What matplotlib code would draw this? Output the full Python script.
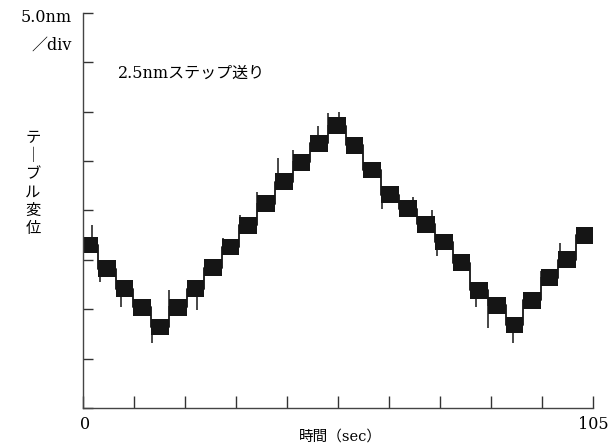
import numpy as np
import matplotlib.pyplot as plt

# step start times (sec) and table displacement level (nm)
step_t = [0, 3.1, 6.8, 10.3, 14.0, 17.7, 21.4, 24.9, 28.6, 32.1,
          35.8, 39.5, 43.2, 46.7, 50.4, 54.1, 57.6, 61.4, 65.1, 68.8,
          72.5, 76.2, 79.7, 83.4, 87.1, 90.6, 94.3, 97.8, 101.5]
step_nm = [16.5, 14.1, 12.1, 10.2, 8.2, 10.2, 12.1, 14.2, 16.3, 18.5,
           20.7, 22.9, 24.9, 26.8, 28.6, 26.6, 24.1, 21.6, 20.2, 18.6,
           16.8, 14.7, 11.9, 10.4, 8.4, 10.9, 13.2, 15.0, 17.5]
t_end = 105

# noise spikes visible on the trace (sec, nm)
spike_t = [1.9, 3.5, 7.8, 14.2, 17.7, 23.5, 28.8, 32.3, 35.8, 40.1, 43.2,
           48.4, 50.4, 52.7, 61.6, 67.9, 71.9, 72.9, 80.9, 83.4, 88.6,
           94.3, 98.2]
spike_nm = [18.5, 12.8, 10.2, 6.6, 11.9, 9.9, 17.2, 19.5, 21.9, 25.3, 26.1,
            28.6, 29.9, 30.0, 20.2, 21.4, 20.1, 15.4, 10.2, 8.1, 6.6,
            13.9, 16.7]

y_ticks = np.arange(0, 41, 5)
x_ticks = np.linspace(0, 105, 11)

plt.rcParams['font.family'] = ['DejaVu Serif', 'Noto Sans CJK JP']

fig = plt.figure(figsize=(6.10, 4.44), dpi=100)
ax = fig.add_axes([83 / 610, 36 / 444, 510 / 610, 395 / 444])

t = np.array(step_t + [t_end])
lv = np.array(step_nm + [step_nm[-1]])
half = 0.85
ax.fill_between(t, lv - half, lv + half, step='post', color='#151515', lw=0)
ax.step(t, lv, where='post', color='#151515', lw=1.3)

# spikes go from the local level to the peak value
lvl_at = lambda s: lv[np.searchsorted(t, s, side='right') - 1]
ax.vlines(spike_t, [lvl_at(s) for s in spike_t], spike_nm, color='#151515', lw=1.1)

ax.set_xlim(0, 105)
ax.set_ylim(0, 40)
ax.set_xticks(x_ticks)
ax.set_yticks(y_ticks)
ax.set_xticklabels([])
ax.set_yticklabels([])
ax.tick_params(axis='x', direction='in', length=8.5, width=1.0, color='#333333')
ax.tick_params(axis='y', direction='in', length=7.5, width=1.0, color='#333333')
for side in ['top', 'right']:
    ax.spines[side].set_visible(False)
for side in ['left', 'bottom']:
    ax.spines[side].set_color('#444444')
    ax.spines[side].set_linewidth(1.0)

fig.text(72 / 610, 1 - 18 / 444, '5.0nm', ha='right', va='center', fontsize=11.5)
fig.text(72 / 610, 1 - 45 / 444, '／div', ha='right', va='center', fontsize=11.5)
fig.text(118 / 610, 1 - 73 / 444, '2.5nmステップ送り', ha='left', va='center', fontsize=11.5)
fig.text(33 / 610, 1 - 183 / 444, 'テ\n｜\nブ\nル\n変\n位', ha='center', va='center',
         fontsize=11, family='Noto Sans CJK JP', linespacing=1.1)
fig.text(85 / 610, 1 - 424 / 444, '0', ha='center', va='center', fontsize=11.5)
fig.text(593 / 610, 1 - 424 / 444, '105', ha='center', va='center', fontsize=11.5)
fig.text(340 / 610, 1 - 437 / 444, '時間（sec）', ha='center', va='center', fontsize=10.5)

fig.savefig('out.png', dpi=100, facecolor='w')
